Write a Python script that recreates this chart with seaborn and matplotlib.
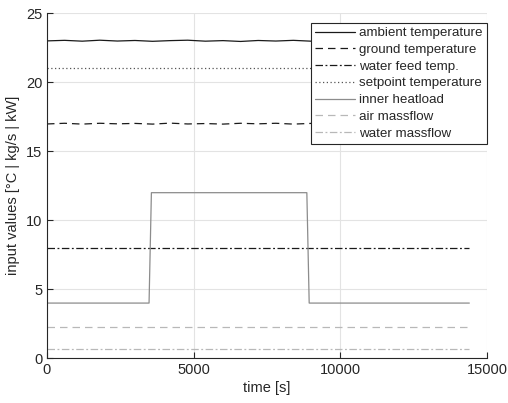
import numpy as np
import pandas as pd
import matplotlib
matplotlib.use("Agg")
import matplotlib.pyplot as plt
import seaborn as sns

sns.set_theme(style="white")
plt.rcParams['font.family'] = ['Liberation Sans', 'DejaVu Sans']

# data
t_amb = [0, 600, 1200, 1800, 2400, 3000, 3600, 4200, 4800, 5400, 6000, 6600, 7200, 7800,
         8400, 9000, 9600, 10200, 10800, 11400, 12000, 12600, 13200, 13800, 14400]
ambient = [23.00, 23.04, 22.98, 23.05, 22.99, 23.03, 22.97, 23.02, 23.05, 22.98, 23.02, 22.96,
           23.03, 22.99, 23.04, 22.98, 23.01, 22.97, 23.02, 23.05, 22.98, 23.02, 22.97, 23.03, 23.00]
ground = [16.98, 17.03, 16.97, 17.03, 16.99, 17.02, 16.97, 17.04, 16.98, 17.01, 16.97, 17.03,
          16.99, 17.03, 16.97, 17.02, 16.98, 17.03, 16.97, 17.01, 17.03, 16.98, 17.02, 16.97, 17.00]
t_const = [0, 14400]
water_feed = [8.0, 8.0]
setpoint = [21.0, 21.0]
air_massflow = [2.3, 2.3]
water_massflow = [0.7, 0.7]
t_heat = [0, 3480, 3560, 8860, 8940, 14400]
heatload = [4.0, 4.0, 12.0, 12.0, 4.0, 4.0]

series = [
    ("ambient temperature", t_amb, ambient, "#1a1a1a", "-"),
    ("ground temperature", t_amb, ground, "#1a1a1a", (0, (6, 4))),
    ("water feed temp.", t_const, water_feed, "#1a1a1a", (0, (6, 2, 1.5, 2))),
    ("setpoint temperature", t_const, setpoint, "#555555", (0, (1, 2))),
    ("inner heatload", t_heat, heatload, "#8c8c8c", "-"),
    ("air massflow", t_const, air_massflow, "#b8b8b8", (0, (6, 4))),
    ("water massflow", t_const, water_massflow, "#b8b8b8", (0, (6, 2, 1.5, 2))),
]

fig = plt.figure(figsize=(5.08, 4.03), dpi=100)
ax = fig.add_axes([0.0925, 0.111, 0.866, 0.856])

for name, x, y, c, ls in series:
    df = pd.DataFrame({"t": x, "v": y})
    sns.lineplot(data=df, x="t", y="v", ax=ax, color=c, linestyle=ls, linewidth=0.9,
                 label=name, estimator=None, sort=False)

ax.set_xlim(0, 15000)
ax.set_ylim(0, 25)
ax.set_xticks([0, 5000, 10000, 15000])
ax.set_yticks([0, 5, 10, 15, 20, 25])
ax.grid(True, color="#e3e3e3", linewidth=0.8)
ax.set_axisbelow(True)
for s in ["top", "right"]:
    ax.spines[s].set_visible(False)
for s in ["left", "bottom"]:
    ax.spines[s].set_color("#262626")
    ax.spines[s].set_linewidth(0.8)
ax.tick_params(direction="in", length=4, width=0.8, colors="#262626", labelsize=10.5,
               left=True, bottom=True)
ax.set_xlabel("time [s]", fontsize=10.5, color="#262626", labelpad=3)
ax.set_ylabel("input values [°C | kg/s | kW]", fontsize=10.5, color="#262626", labelpad=4)

leg = ax.legend(loc="upper right", fontsize=9.6, frameon=True, fancybox=False,
                borderaxespad=0.0, bbox_to_anchor=(1.0, 0.972), handlelength=3.0,
                handletextpad=0.3, labelspacing=0.33, borderpad=0.3)
leg.get_frame().set_edgecolor("#262626")
leg.get_frame().set_linewidth(0.8)
leg.get_frame().set_alpha(1.0)

fig.savefig("out.png", dpi=100, facecolor="white")
